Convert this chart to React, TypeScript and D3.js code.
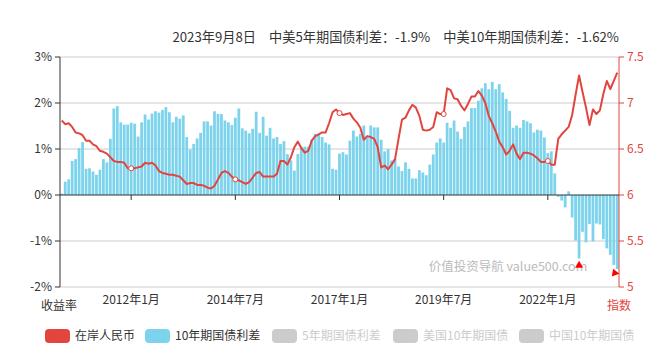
import React from "react"
import * as d3 from "d3"

// 月度数据 2010年5月 ~ 2023年9月
const startMonth = new Date(2010, 4, 1)
const monthCount = 161

const spread10 = [
  0.03,
  0.29, 0.34, 0.74, 0.78, 1.02, 1.15, 0.57, 0.58, 0.51, 0.44, 0.55, 0.78, 0.71, 1.22, 1.88, 1.93, 1.58, 1.53, 1.53, 1.57,
  1.55, 1.27, 1.58, 1.75, 1.64, 1.77, 1.82, 1.79, 1.85, 1.91, 1.80, 1.58, 1.70, 1.66, 1.73, 1.26, 0.99, 1.11, 1.23, 1.35,
  1.60, 1.60, 1.51, 1.82, 1.76, 1.76, 1.62, 1.58, 1.52, 1.68, 1.88, 1.45, 1.40, 1.34, 1.44, 1.81, 1.35, 1.70, 1.29, 1.46,
  1.23, 1.26, 1.11, 1.17, 0.89, 0.75, 0.53, 0.89, 1.05, 1.05, 1.05, 1.20, 1.33, 1.32, 1.26, 1.14, 1.10, 0.57, 0.55, 0.90,
  0.93, 0.88, 1.18, 1.40, 1.27, 1.33, 1.51, 1.25, 1.51, 1.47, 1.47, 1.20, 0.95, 1.00, 0.75, 0.78, 0.62, 0.52, 0.71, 0.57,
  0.36, 0.36, 0.54, 0.49, 0.43, 0.66, 0.88, 1.14, 1.23, 1.14, 1.57, 1.46, 1.62, 1.38, 1.22, 1.48, 1.60, 1.89, 1.89, 2.05,
  2.32, 2.43, 2.30, 2.46, 2.30, 2.41, 2.23, 2.09, 1.83, 1.46, 1.51, 1.46, 1.63, 1.60, 1.56, 1.36, 1.42, 1.40, 1.25, 0.91,
  0.95, 0.47, -0.04, -0.12, -0.27, 0.08, -0.49, -0.99, -1.38, -0.80, -1.03, -0.63, -1.01, -0.62, -0.64, -0.96, -1.16, -1.30, -1.52, -1.61,
]

const cny = [
  6.81, 6.77, 6.78, 6.74, 6.68, 6.67, 6.65, 6.59, 6.59, 6.55, 6.53, 6.48, 6.47, 6.45, 6.41, 6.37, 6.36, 6.36, 6.35, 6.29,
  6.29, 6.29, 6.30, 6.31, 6.35, 6.34, 6.35, 6.32, 6.26, 6.24, 6.23, 6.22, 6.22, 6.21, 6.20, 6.16, 6.12, 6.13, 6.13, 6.11,
  6.11, 6.10, 6.08, 6.07, 6.10, 6.17, 6.24, 6.26, 6.24, 6.20, 6.17, 6.16, 6.14, 6.12, 6.14, 6.19, 6.24, 6.25, 6.20, 6.20,
  6.20, 6.20, 6.23, 6.37, 6.37, 6.33, 6.41, 6.52, 6.58, 6.51, 6.46, 6.48, 6.59, 6.64, 6.66, 6.68, 6.68, 6.78, 6.90, 6.93,
  6.89, 6.87, 6.88, 6.89, 6.83, 6.79, 6.73, 6.60, 6.64, 6.63, 6.61, 6.52, 6.30, 6.32, 6.28, 6.33, 6.39, 6.61, 6.82, 6.84,
  6.92, 6.98, 6.95, 6.86, 6.71, 6.70, 6.71, 6.74, 6.90, 6.88, 6.88, 7.16, 7.14, 7.05, 7.04, 6.97, 6.92, 6.99, 7.07, 7.07,
  7.13, 7.08, 7.00, 6.86, 6.78, 6.69, 6.58, 6.52, 6.44, 6.48, 6.55, 6.45, 6.39, 6.46, 6.46, 6.45, 6.43, 6.40, 6.36, 6.36,
  6.37, 6.33, 6.33, 6.61, 6.66, 6.70, 6.74, 6.87, 7.09, 7.30, 7.12, 6.95, 6.76, 6.93, 6.88, 6.92, 7.10, 7.24, 7.15, 7.24,
  7.33,
]

const xTickLabels = ["2012年1月", "2014年7月", "2017年1月", "2019年7月", "2022年1月"]
const leftTicks = [3, 2, 1, 0, -1, -2]
const rightTicks = [7.5, 7, 6.5, 6, 5.5, 5]
const minPointLabels = ["2022年10月", "2023年9月"]

const legendItems = [
  { name: "在岸人民币", color: "#e2453e", active: true },
  { name: "10年期国债利差", color: "#7dd3ec", active: true },
  { name: "5年期国债利差", color: "#ccc", active: false },
  { name: "美国10年期国债", color: "#ccc", active: false },
  { name: "中国10年期国债", color: "#ccc", active: false },
]

const title = "2023年9月8日　中美5年期国债利差：-1.9%　中美10年期国债利差：-1.62%"

const fmt = (d: Date) => `${d.getFullYear()}年${d.getMonth() + 1}月`
const months = d3.range(monthCount).map(i => fmt(d3.timeMonth.offset(startMonth, i)))

export default function App() {
  const width = 660
  const height = 354
  const left = 60
  const right = 619
  const top = 57
  const bottom = 287

  const red = "#e2453e"
  const blue = "#7dd3ec"
  const font = "'Noto Sans CJK SC', 'Noto Sans', sans-serif"

  const x = d3.scaleBand<string>().domain(months).range([left, right]).paddingInner(0.2).paddingOuter(0.1)
  const cx = (m: string) => (x(m) as number) + x.bandwidth() / 2
  const yL = d3.scaleLinear().domain([-2, 3]).range([bottom, top])
  const yR = d3.scaleLinear().domain([5, 7.5]).range([bottom, top])

  const line = d3.line<number>()
    .x((_, i) => cx(months[i]))
    .y(d => yR(d))

  // 空心点只出现在横轴标签处
  const markerIdx = xTickLabels.map(l => months.indexOf(l))
  const legendX = [45, 145, 272, 393, 519]

  return (
    <svg width={width} height={height} style={{ position: "absolute", left: 0, top: 0, fontFamily: font }}>
      <text x={right} y={42} textAnchor="end" fontSize={13.2} fill="#333">{title}</text>

      {/* grid */}
      {leftTicks.filter(t => t !== 0).map(t => (
        <line key={t} x1={left} x2={right} y1={yL(t)} y2={yL(t)} stroke="#ccc" strokeWidth={1} />
      ))}

      {/* bars */}
      {spread10.map((v, i) => (
        <rect key={i} x={x(months[i])} width={x.bandwidth()}
          y={Math.min(yL(v), yL(0))} height={Math.abs(yL(v) - yL(0))} fill={blue} />
      ))}

      {/* left axis */}
      <line x1={left} x2={left} y1={top} y2={bottom} stroke="#333" />
      {leftTicks.map(t => (
        <g key={t}>
          <line x1={left - 5} x2={left} y1={yL(t)} y2={yL(t)} stroke="#333" />
          <text x={left - 8} y={yL(t)} dy="0.35em" textAnchor="end" fontSize={12} fill="#333">{t}%</text>
        </g>
      ))}
      <text x={59} y={310} textAnchor="middle" fontSize={12} fill="#333">收益率</text>

      {/* right axis */}
      <line x1={right} x2={right} y1={top} y2={bottom} stroke={red} />
      {rightTicks.map(t => (
        <g key={t}>
          <line x1={right} x2={right + 5} y1={yR(t)} y2={yR(t)} stroke={red} />
          <text x={right + 8} y={yR(t)} dy="0.35em" fontSize={12} fill={red}>{t}</text>
        </g>
      ))}
      <text x={right} y={310} textAnchor="middle" fontSize={12} fill={red}>指数</text>

      {/* x axis on zero */}
      <line x1={left} x2={right} y1={yL(0)} y2={yL(0)} stroke="#333" />
      {xTickLabels.map(l => (
        <g key={l}>
          <line x1={cx(l)} x2={cx(l)} y1={yL(0)} y2={yL(0) + 5} stroke="#333" />
          <text x={cx(l)} y={300} dy="0.35em" textAnchor="middle" fontSize={12} fill="#333">{l}</text>
        </g>
      ))}

      {/* watermark */}
      <text x={508} y={267} dy="0.35em" textAnchor="middle" fontSize={12.5} fill="#bbb">价值投资导航 value500.com</text>

      {/* cny line */}
      <path d={line(cny) ?? ""} fill="none" stroke={red} strokeWidth={2} strokeLinejoin="round" />
      {markerIdx.map(i => (
        <circle key={i} cx={cx(months[i])} cy={yR(cny[i])} r={2.5} fill="#fff" stroke={red} strokeWidth={1} />
      ))}

      {/* min markers */}
      {minPointLabels.map((l, k) => {
        const i = months.indexOf(l)
        const px = cx(l) - (k === 1 ? 2.5 : 0)
        const py = yL(spread10[i]) + (k === 1 ? 4 : 7)
        return (
          <path key={l} d={d3.symbol(d3.symbolTriangle, 28)() ?? ""}
            transform={`translate(${px},${py}) rotate(${k === 1 ? -20 : 0})`} fill="#f00" />
        )
      })}

      {/* legend */}
      {legendItems.map((it, i) => (
        <g key={it.name} transform={`translate(${legendX[i]},329)`}>
          <rect width={25} height={14} rx={4} fill={it.color} />
          <text x={30} y={7} dy="0.35em" fontSize={12} fill={it.active ? "#333" : "#ccc"}>{it.name}</text>
        </g>
      ))}
    </svg>
  )
}
